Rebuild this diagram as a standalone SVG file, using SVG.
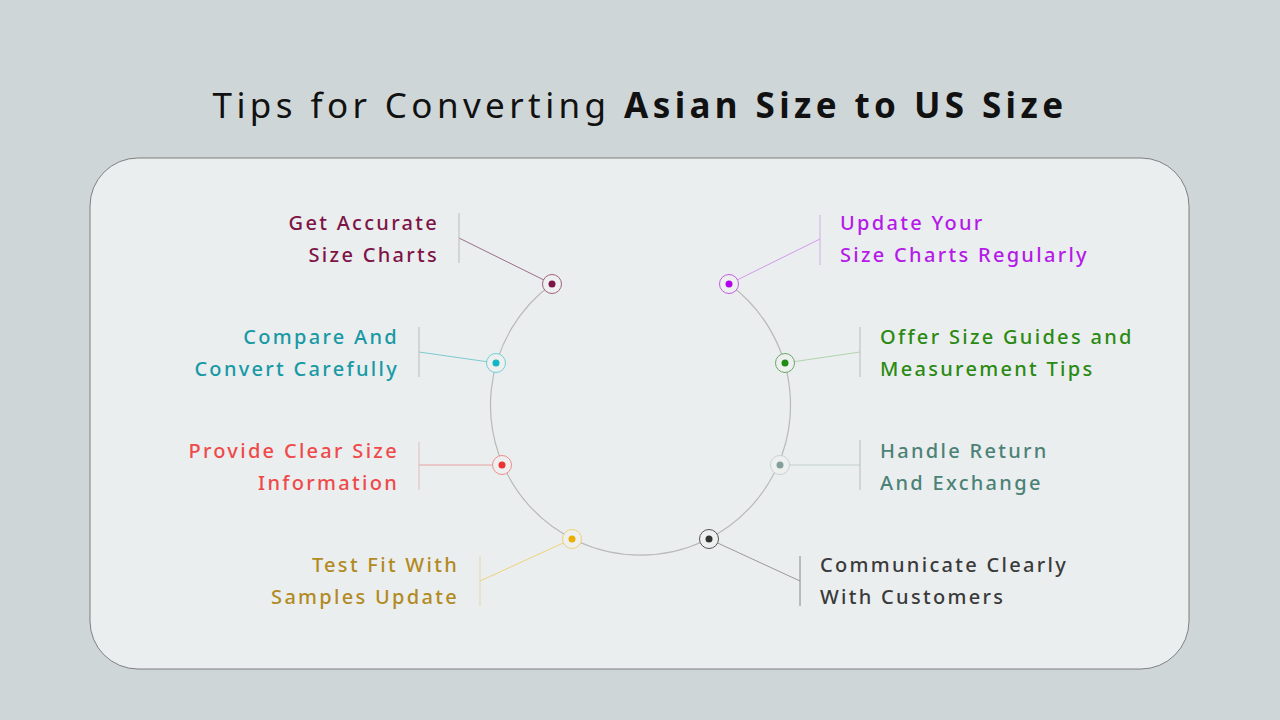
<svg xmlns="http://www.w3.org/2000/svg" width="1280" height="720" viewBox="0 0 1280 720">
<style>
.t{font-family:"Noto Sans","Liberation Sans",sans-serif;font-size:20px;letter-spacing:2.3px;font-weight:500}
.r{text-anchor:end}
.ring{fill:#eef0f0;stroke-width:1}
.c line{stroke-width:1}
</style>
<rect width="1280" height="720" fill="#cfd6d8"/>
<rect x="90" y="158" width="1099" height="511" rx="48" fill="#ebeeef" stroke="#666" stroke-width="0.8"/>
<text x="640" y="118" text-anchor="middle" font-family="'Noto Sans','Liberation Sans',sans-serif" font-size="35" letter-spacing="4.4" fill="#111">Tips for Converting <tspan font-weight="bold">Asian Size to US Size</tspan></text>
<path d="M552,284 A150,150 0 1 0 729,284" fill="none" stroke="#b8b8b8" stroke-width="1.2"/>
<g class="c" id="connectors">
<polyline points="552,284 459,238" fill="none" stroke="#9a6f85"/><line x1="459" y1="213" x2="459" y2="263" stroke="#bbb"/>
<polyline points="496,363 419,352" fill="none" stroke="#7cc9cf"/><line x1="419" y1="327" x2="419" y2="377" stroke="#bbb"/>
<polyline points="502,465 419,465" fill="none" stroke="#e8a0a0"/><line x1="419" y1="442" x2="419" y2="490" stroke="#e0bdbd"/>
<polyline points="572,539 480,581" fill="none" stroke="#ecd27a"/><line x1="480" y1="556" x2="480" y2="606" stroke="#e3d6a7"/>
<polyline points="729,284 820,239" fill="none" stroke="#d39ae8"/><line x1="820" y1="215" x2="820" y2="265" stroke="#d7a9e8"/>
<polyline points="785,363 860,352" fill="none" stroke="#b2d3b0"/><line x1="860" y1="327" x2="860" y2="377" stroke="#bbb"/>
<polyline points="780,465 860,465" fill="none" stroke="#c0cfcc"/><line x1="860" y1="440" x2="860" y2="490" stroke="#bbb"/>
<polyline points="709,539 800,581" fill="none" stroke="#999"/><line x1="800" y1="556" x2="800" y2="606" stroke="#888"/>
</g>
<g id="n1"><circle cx="552" cy="284" r="9.5" class="ring" stroke="#a06080"/><circle cx="552" cy="284" r="3.5" fill="#7d1446"/><text class="t r" x="439" y="230" fill="#7d1446">Get Accurate</text><text class="t r" x="439" y="262" fill="#7d1446">Size Charts</text></g>
<g id="n2"><circle cx="496" cy="363" r="9.5" class="ring" stroke="#6fcfd6"/><circle cx="496" cy="363" r="3.5" fill="#0fb7c4"/><text class="t r" x="399" y="344" fill="#1899a6">Compare And</text><text class="t r" x="399" y="376" fill="#1899a6">Convert Carefully</text></g>
<g id="n3"><circle cx="502" cy="465" r="9.5" class="ring" stroke="#ee8c8c"/><circle cx="502" cy="465" r="3.5" fill="#ee3333"/><text class="t r" x="399" y="458" fill="#ef4a4a">Provide Clear Size</text><text class="t r" x="399" y="490" fill="#ef4a4a">Information</text></g>
<g id="n4"><circle cx="572" cy="539" r="9.5" class="ring" stroke="#efd07a"/><circle cx="572" cy="539" r="3.5" fill="#e9b000"/><text class="t r" x="459" y="572" fill="#b28a22">Test Fit With</text><text class="t r" x="459" y="604" fill="#b28a22">Samples Update</text></g>
<g id="n5"><circle cx="729" cy="284" r="9.5" class="ring" stroke="#c25be6"/><circle cx="729" cy="284" r="3.5" fill="#b400ee"/><text class="t" x="840" y="230" fill="#b41ae8">Update Your</text><text class="t" x="840" y="262" fill="#b41ae8">Size Charts Regularly</text></g>
<g id="n6"><circle cx="785" cy="363" r="9.5" class="ring" stroke="#6aa866"/><circle cx="785" cy="363" r="3.5" fill="#1f8d14"/><text class="t" x="880" y="344" fill="#2a8a12">Offer Size Guides and</text><text class="t" x="880" y="376" fill="#2a8a12">Measurement Tips</text></g>
<g id="n7"><circle cx="780" cy="465" r="9.5" class="ring" stroke="#c5d4d2"/><circle cx="780" cy="465" r="3.5" fill="#82a09b"/><text class="t" x="880" y="458" fill="#4b8277">Handle Return</text><text class="t" x="880" y="490" fill="#4b8277">And Exchange</text></g>
<g id="n8"><circle cx="709" cy="539" r="9.5" class="ring" stroke="#555"/><circle cx="709" cy="539" r="3.5" fill="#333"/><text class="t" x="820" y="572" fill="#3a3a3a">Communicate Clearly</text><text class="t" x="820" y="604" fill="#3a3a3a">With Customers</text></g>
</svg>
